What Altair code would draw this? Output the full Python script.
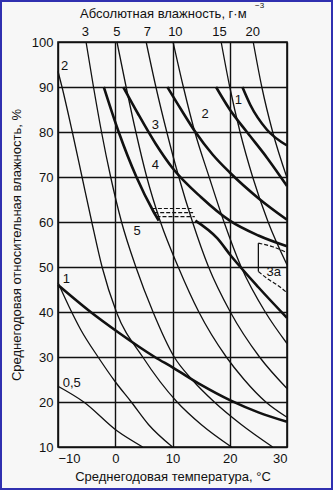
import altair as alt
import pandas as pd

# ---- thin absolute-humidity isolines (g/m3): temperature (°C) / relative humidity (%)
ah05_t = [-10.0, -5.5, 0.3, 4.8]
ah05_rh = [23.5, 20.0, 13.6, 10.0]
ah1_t = [-10.0, -8.0, -6.0, -3.0, 0.0, 2.8, 5.8, 10.0]
ah1_rh = [46.5, 41.0, 36.0, 30.0, 24.5, 20.0, 15.0, 10.0]
ah2_t = [-10.0, -9.3, -7.5, -5.8, -4.1, -2.3, 0.2, 4.8, 10.8, 15.0, 20.3]
ah2_rh = [93.5, 90, 80, 70, 60, 50, 40, 30, 20, 15, 10]
ah3_t = [-5.1, -3.8, -2.4, -0.8, 1.1, 3.6, 6.6, 10.3, 13.4, 17.3, 22.0, 27.5]
ah3_rh = [100, 90, 80, 70, 60, 50, 40, 30, 25, 20, 15, 10]
ah5_t = [0.3, 1.9, 3.6, 5.5, 7.9, 11.0, 14.6, 19.4, 22.5, 26.3, 30.0]
ah5_rh = [100, 90, 80, 70, 60, 50, 40, 30, 25, 20, 16.6]
ah7_t = [5.4, 7.1, 9.0, 11.1, 13.5, 16.3, 20.1, 25.2, 30.0]
ah7_rh = [100, 90, 80, 70, 60, 50, 40, 30, 23.0]
ah10_t = [10.1, 11.9, 13.9, 16.4, 19.0, 22.0, 26.2, 30.0]
ah10_rh = [100, 90, 80, 70, 60, 50, 40, 33.0]
ah15_t = [18.5, 20.0, 21.8, 24.0, 26.7, 30.0]
ah15_rh = [100, 90, 80, 70, 60, 50.5]
ah20_t = [24.1, 25.6, 27.5, 30.0]
ah20_rh = [100, 90, 80, 69.8]

# ---- thick zone boundaries
zA_t = [22.2, 23.6, 26.5, 30.0]
zA_rh = [90, 86, 80.5, 77]
zB_t = [17.6, 20.0, 23.0, 26.5, 30.0]
zB_rh = [90, 85, 80, 74.3, 68]
zC_t = [9.1, 11.5, 14.0, 17.0, 20.0, 25.0, 30.0]
zC_rh = [90, 85, 80, 75, 71, 65.3, 60.5]
zD_t = [1.4, 4.0, 7.0, 10.0, 15.0, 20.0, 25.0, 30.0]
zD_rh = [90, 84, 77.5, 72, 65.5, 60.3, 57, 54.6]
zE1_t = [-2.0, 0.6, 3.7, 6.6, 7.6]
zE1_rh = [90, 80, 70, 62.5, 60.3]
zE2_t = [14.0, 17.8, 20.2, 25.0, 30.0]
zE2_rh = [60.3, 56.4, 52.5, 45.5, 38.7]
zG_t = [-10.0, -4.3, 0.5, 6.9, 10.0, 15.0, 20.2, 25.0, 30.0]
zG_rh = [46, 40, 35.5, 30, 27.7, 23.8, 20.3, 17.7, 15.6]

# ---- dashed segments
d1_t, d1_rh = [6.4, 13.3], [63.0, 63.0]
d2_t, d2_rh = [6.8, 13.6], [62.1, 62.1]
d3_t, d3_rh = [7.2, 13.9], [61.2, 61.2]
z3a_top_t, z3a_top_rh = [25.0, 27.5, 30.0], [55.3, 54.5, 53.2]
z3a_bot_t, z3a_bot_rh = [25.0, 26.8, 28.3, 30.0], [49.0, 47.2, 46.0, 44.3]
z3a_side_t, z3a_side_rh = [25.0, 25.0], [55.3, 49.0]

# ---- labels
zone_text = ["1", "2", "3", "4", "5", "3а", "2", "1", "0,5"]
zone_t = [21.5, 15.7, 7.0, 7.0, 3.8, 27.7, -8.85, -8.55, -7.6]
zone_rh = [87.1, 84.0, 81.6, 72.7, 57.9, 48.9, 94.6, 47.3, 24.3]
top_text = ["3", "5", "7", "10", "15", "20"]
top_t = [-5.2, 0.3, 5.6, 10.5, 18.2, 24.0]

x_ticks = [-10, 0, 10, 20, 30]
y_ticks = [10, 20, 30, 40, 50, 60, 70, 80, 90, 100]


def frame(curves):
    rows = []
    for name, (ts, rhs) in curves.items():
        for i, (t, rh) in enumerate(zip(ts, rhs)):
            rows.append({"curve": name, "idx": i, "T": t, "RH": rh})
    return pd.DataFrame(rows)


thin_df = frame({
    "0.5": (ah05_t, ah05_rh), "1": (ah1_t, ah1_rh), "2": (ah2_t, ah2_rh),
    "3": (ah3_t, ah3_rh), "5": (ah5_t, ah5_rh), "7": (ah7_t, ah7_rh),
    "10": (ah10_t, ah10_rh), "15": (ah15_t, ah15_rh), "20": (ah20_t, ah20_rh),
    "3a_side": (z3a_side_t, z3a_side_rh),
})
thick_df = frame({
    "A": (zA_t, zA_rh), "B": (zB_t, zB_rh), "C": (zC_t, zC_rh), "D": (zD_t, zD_rh),
    "E1": (zE1_t, zE1_rh), "E2": (zE2_t, zE2_rh), "G": (zG_t, zG_rh),
})
dash_df = frame({
    "d1": (d1_t, d1_rh), "d2": (d2_t, d2_rh), "d3": (d3_t, d3_rh),
    "3a_top": (z3a_top_t, z3a_top_rh), "3a_bot": (z3a_bot_t, z3a_bot_rh),
})
zone_df = pd.DataFrame({"text": zone_text, "T": zone_t, "RH": zone_rh})
top_df = pd.DataFrame({"text": top_text, "T": top_t})

FONT = "Liberation Sans"
INK = "#111111"

xscale = alt.Scale(domain=[-10, 30], nice=False, zero=False)
yscale = alt.Scale(domain=[10, 100], nice=False, zero=False)

xenc = alt.X("T:Q", scale=xscale, axis=alt.Axis(
    values=x_ticks, grid=True, gridColor=INK, gridWidth=1.4, gridOpacity=1,
    domain=False, ticks=False, labelFont=FONT, labelFontSize=13, labelColor=INK,
    labelPadding=5, title="Среднегодовая температура, °С", titleFont=FONT,
    titleFontSize=13, titleFontWeight="normal", titleColor=INK, titlePadding=5))
yenc = alt.Y("RH:Q", scale=yscale, axis=alt.Axis(
    values=y_ticks, grid=True, gridColor=INK, gridWidth=1.4, gridOpacity=1,
    domain=False, ticks=False, labelFont=FONT, labelFontSize=13, labelColor=INK,
    labelPadding=5, title="Среднегодовая относительная влажность, %", titleFont=FONT,
    titleFontSize=13, titleFontWeight="normal", titleColor=INK, titlePadding=8))

thin = alt.Chart(thin_df).mark_line(color=INK, strokeWidth=1.3, interpolate="monotone").encode(
    x=xenc, y=yenc, detail="curve:N", order="idx:Q")
thick = alt.Chart(thick_df).mark_line(color=INK, strokeWidth=2.6, interpolate="monotone").encode(
    x="T:Q", y="RH:Q", detail="curve:N", order="idx:Q")
dashed = alt.Chart(dash_df).mark_line(color=INK, strokeWidth=1.2, strokeDash=[4, 2],
                                      interpolate="monotone").encode(
    x="T:Q", y="RH:Q", detail="curve:N", order="idx:Q")
zones = alt.Chart(zone_df).mark_text(font=FONT, fontSize=13, color=INK, align="center",
                                     baseline="middle").encode(
    x="T:Q", y="RH:Q", text="text:N")
tops = alt.Chart(top_df).mark_text(font=FONT, fontSize=13, color=INK, align="center",
                                   baseline="middle", dy=-10).encode(
    x="T:Q", y=alt.datum(100), text="text:N")
top_title = alt.Chart(pd.DataFrame({"t": ["Абсолютная влажность, г·м"]})).mark_text(
    font=FONT, fontSize=13, color=INK, align="left", baseline="middle").encode(
    x=alt.value(22), y=alt.value(-28), text="t:N")
top_sup = alt.Chart(pd.DataFrame({"t": ["−3"]})).mark_text(
    font=FONT, fontSize=8, color=INK, align="left", baseline="middle").encode(
    x=alt.value(197), y=alt.value(-36), text="t:N")
border = alt.Chart(pd.DataFrame({"a": [0]})).mark_rect(
    fill=None, stroke="#3030b0", strokeWidth=2).encode(
    x=alt.value(-57), x2=alt.value(229 + 45), y=alt.value(-41), y2=alt.value(405 + 42))

chart = alt.layer(thin, thick, dashed, zones, tops, top_title, top_sup, border).properties(
    width=229, height=405,
    autosize="none",
    padding={"left": 58, "top": 42, "right": 46, "bottom": 43},
    background="#f7f7f7",
).configure_view(stroke=INK, strokeWidth=1.6)

chart.save("out.html", embed_options={"renderer": "svg", "actions": False})
